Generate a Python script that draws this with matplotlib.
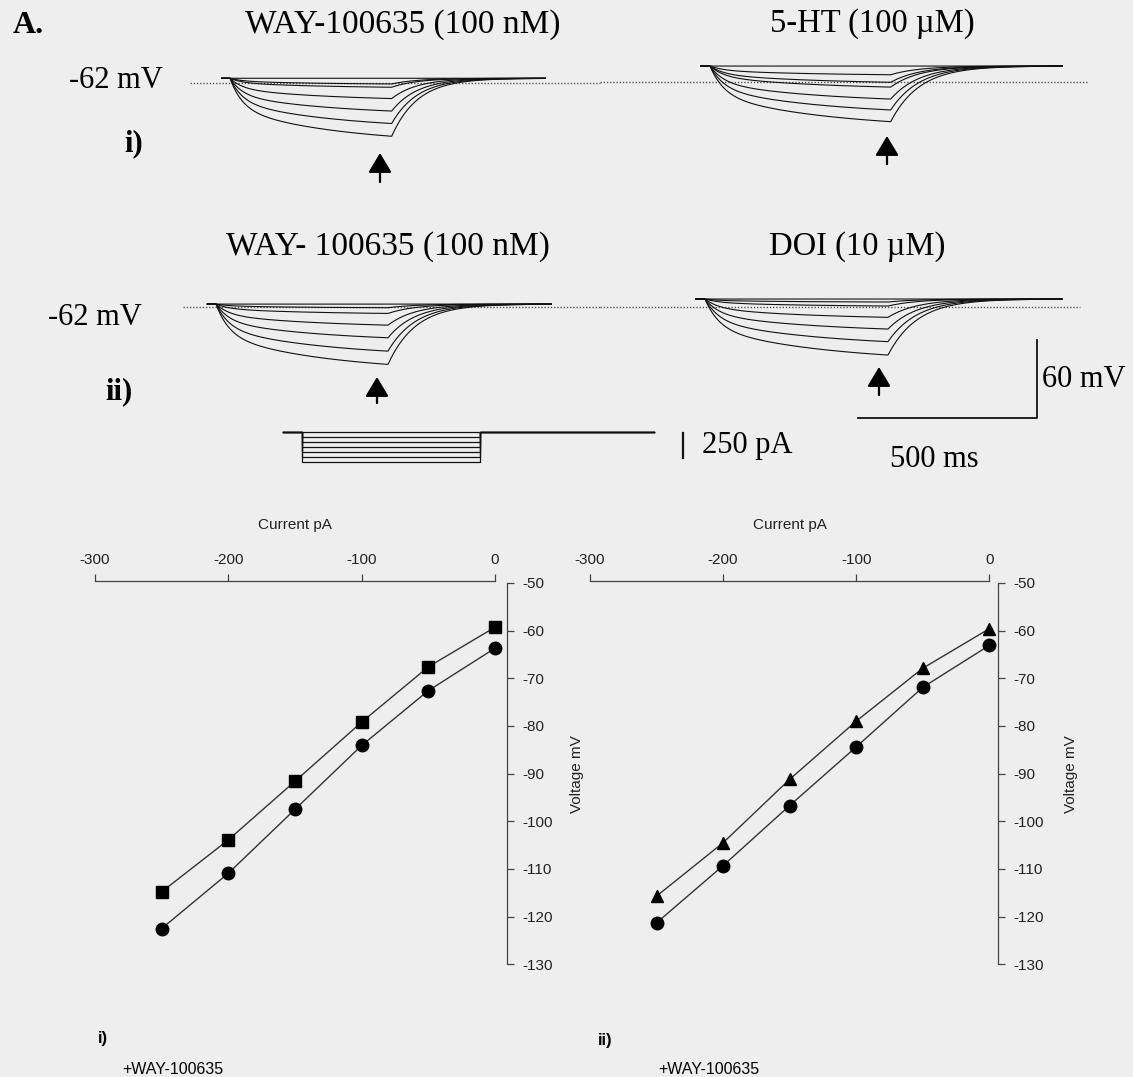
import matplotlib
matplotlib.use('Agg')
import matplotlib.pyplot as plt
import numpy as np

W, H, DPI = 1133, 1077, 100
BG = '#eeeeee'
INK = '#111111'
SERIF = ['Liberation Serif', 'DejaVu Serif']
SANS = ['Liberation Sans', 'DejaVu Sans']

# ---------------- data ----------------
# I-V relationships: injected current (pA) -> membrane potential (mV)
iv_current_pA = [0, -50, -100, -150, -200, -250]
iv_i_squares = [-59.3, -67.6, -79.2, -91.6, -103.9, -114.8]
iv_i_circles = [-63.7, -72.6, -84.1, -97.5, -110.9, -122.5]
iv_ii_triangles = [-59.6, -67.9, -79.0, -91.2, -104.5, -115.7]
iv_ii_circles = [-63.1, -71.9, -84.4, -96.7, -109.3, -121.3]
iv_xticks = [-300, -200, -100, 0]
iv_yticks = [-50, -60, -70, -80, -90, -100, -110, -120, -130]

# Voltage traces (A i / ii)
panel_titles = ['WAY-100635 (100 nM)', '5-HT (100 \u00b5M)',
                'WAY- 100635 (100 nM)', 'DOI (10 \u00b5M)']
dotted_mV = -62
trace_rest_mV = [-58.6, -49.5, -60.0, -56.1]
trace_defl_mV = [
    [0, 4.4, 6.9, 15.6, 25.2, 34.8, 44.6],
    [0, 6.7, 12.5, 16.2, 25.4, 33.8, 42.8],
    [0, 2.8, 7.2, 16.2, 25.9, 36.2, 46.4],
    [0, 2.3, 5.4, 14.1, 23.1, 32.8, 43.1],
]
step_ms = 500
trace_window_ms = (-25, 975)
step_pA = [0, -50, -100, -150, -200, -250, -300]

plt.rcParams['font.family'] = SERIF
fig = plt.figure(figsize=(W / DPI, H / DPI), dpi=DPI, facecolor=BG)


def px_axes(x0, y0, x1, y1):
    ax = fig.add_axes([x0 / W, 1 - y1 / H, (x1 - x0) / W, (y1 - y0) / H])
    ax.set_facecolor('none')
    return ax


def F(x, y):
    return (x / W, 1 - y / H)


def trace_shape(t, defl, rest):
    f = lambda s: 1 - 0.45 * np.exp(-s / 38.0) - 0.55 * np.exp(-s / 330.0)
    v = np.full_like(t, rest, dtype=float)
    on = (t >= 0) & (t <= step_ms)
    v[on] = rest - defl * f(t[on]) / f(step_ms)
    off = t > step_ms
    v[off] = rest - defl * np.exp(-(t[off] - step_ms) / 80.0)
    return v


MV_PX = 1.3  # px per mV
# layout: box, onset px, step length px, dotted y px, dotted extent px, arrow (x, tip, tail)
trace_layout = [
    dict(box=(150, 40, 610, 200), onset=230, step=161.7, dy=82.7, dx=(190, 600), arrow=(380, 153, 182)),
    dict(box=(590, 40, 1110, 200), onset=710, step=180.7, dy=82.3, dx=(600, 1088), arrow=(887, 136, 164)),
    dict(box=(150, 270, 610, 420), onset=216, step=172.0, dy=306.7, dx=(183, 600), arrow=(377, 377, 403)),
    dict(box=(590, 270, 1110, 420), onset=705, step=183.0, dy=306.7, dx=(600, 1080), arrow=(879, 367, 395)),
]

t = np.linspace(trace_window_ms[0], trace_window_ms[1], 1200)
for i, L in enumerate(trace_layout):
    x0, y0, x1, y1 = L['box']
    ax = px_axes(x0, y0, x1, y1)
    k = L['step'] / step_ms
    ax.set_xlim((x0 - L['onset']) / k, (x1 - L['onset']) / k)
    ax.set_ylim(dotted_mV - (y1 - L['dy']) / MV_PX, dotted_mV + (L['dy'] - y0) / MV_PX)
    ax.axis('off')
    d0, d1 = [(d - L['onset']) / k for d in L['dx']]
    ax.plot([d0, d1], [dotted_mV, dotted_mV], ls=(0, (1, 1.3)), lw=1.0, color='#555555')
    for d in trace_defl_mV[i]:
        ax.plot(t, trace_shape(t, d, trace_rest_mV[i]), color=INK, lw=0.8)
    ax_, tip, tail = L['arrow']
    fig.add_artist(matplotlib.patches.FancyArrowPatch(
        F(ax_, tail), F(ax_, tip), transform=fig.transFigure,
        arrowstyle='-|>,head_length=0.6,head_width=0.36', mutation_scale=20,
        color='black', lw=1.6, shrinkA=0, shrinkB=0))

# titles & labels (serif)
fig.text(*F(13, 33), 'A.', fontsize=23, fontweight='bold', va='baseline', ha='left')
fig.text(*F(403, 33), panel_titles[0], fontsize=24, ha='center', va='baseline')
fig.text(*F(872, 32), panel_titles[1], fontsize=23.5, ha='center', va='baseline')
fig.text(*F(388, 255), panel_titles[2], fontsize=24, ha='center', va='baseline')
fig.text(*F(857, 255), panel_titles[3], fontsize=23.5, ha='center', va='baseline')
fig.text(*F(69, 88), '-62 mV', fontsize=22, ha='left', va='baseline')
fig.text(*F(48, 325), '-62 mV', fontsize=22, ha='left', va='baseline')
fig.text(*F(124, 151), 'i)', fontsize=22, fontweight='bold', ha='left', va='baseline')
fig.text(*F(105, 399), 'ii)', fontsize=22, fontweight='bold', ha='left', va='baseline')

# current step protocol
pa = px_axes(260, 415, 700, 480)
kp = 177.5 / step_ms
PA_PX = 0.1
pa.set_xlim((260 - 302) / kp, (700 - 302) / kp)
pa.set_ylim(-(480 - 431.7) / PA_PX, (431.7 - 415) / PA_PX)
pa.axis('off')
t0p, t1p = (283 - 302) / kp, (654 - 302) / kp
for I in step_pA:
    pa.plot([t0p, 0, 0, step_ms, step_ms, t1p], [0, 0, I, I, 0, 0], color=INK, lw=0.9)
xb = (682.7 - 302) / kp
pa.plot([xb, xb], [-15, -265], color=INK, lw=1.6)
fig.text(*F(702, 453), '250 pA', fontsize=22, ha='left', va='baseline')

# 60 mV / 500 ms scale bar
sb = px_axes(840, 330, 1060, 430)
ks = 179.5 / 500
sb.set_xlim((840 - 857.5) / ks, (1060 - 857.5) / ks)
sb.set_ylim(-(430 - 418.3) / MV_PX, (418.3 - 330) / MV_PX)
sb.axis('off')
sb.plot([0, 500, 500], [0, 0, 60], color=INK, lw=1.3)
fig.text(*F(1042, 387), '60 mV', fontsize=22, ha='left', va='baseline')
fig.text(*F(934, 467), '500 ms', fontsize=22, ha='center', va='baseline')


# ---------------- I-V plots ----------------
def iv_axes(x0, x1, xpad, sq, circ, marker_sq):
    ax = px_axes(x0, 581, x1, 964.3)
    ax.set_xlim(-300, xpad)
    ax.set_ylim(-130, -49.6)
    for s in ['left', 'bottom']:
        ax.spines[s].set_visible(False)
    for s in ['top', 'right']:
        ax.spines[s].set_color('#444444')
        ax.spines[s].set_linewidth(0.9)
    ax.spines['top'].set_bounds(-300, 0)
    ax.spines['right'].set_bounds(-130, -50)
    ax.xaxis.tick_top()
    ax.yaxis.tick_right()
    ax.set_xticks(iv_xticks)
    ax.set_yticks(iv_yticks)
    ax.set_xticklabels([str(v) for v in iv_xticks])
    ax.set_yticklabels([str(v) for v in iv_yticks])
    ax.tick_params(axis='x', direction='out', length=5, width=0.9, color='#444444',
                   labelsize=11, pad=5, labelcolor='#222222')
    ax.tick_params(axis='y', direction='out', length=5, width=0.9, color='#444444',
                   labelsize=11, pad=6, labelcolor='#222222')
    for lab in ax.get_xticklabels() + ax.get_yticklabels():
        lab.set_family(SANS)
    ax.plot(iv_current_pA, sq, color='#333333', lw=1.0, marker=marker_sq,
            markersize=8.5 if marker_sq == 's' else 9, markerfacecolor='black',
            markeredgecolor='black', clip_on=False)
    ax.plot(iv_current_pA, circ, color='#333333', lw=1.0, marker='o', markersize=9,
            markerfacecolor='black', markeredgecolor='black', clip_on=False)
    return ax


axl = iv_axes(95, 507, 9, iv_i_squares, iv_i_circles, 's')
axr = iv_axes(590, 998.4, 6.8, iv_ii_triangles, iv_ii_circles, '^')

for xc in (295, 790):
    fig.text(*F(xc, 525), 'Current pA', fontsize=11, ha='center', va='center',
             family=SANS, color='#222222')
for xc in (577, 1071):
    fig.text(*F(xc, 774), 'Voltage mV', fontsize=11, ha='center', va='center',
             rotation=90, family=SANS, color='#222222')

fig.text(*F(98, 1038), 'i)', fontsize=12, fontweight='bold', ha='left', va='center', family=SANS)
fig.text(*F(598, 1040), 'ii)', fontsize=12, fontweight='bold', ha='left', va='center', family=SANS)
fig.text(*F(122, 1070), '+WAY-100635', fontsize=11.5, ha='left', va='center', family=SANS)
fig.text(*F(658, 1070), '+WAY-100635', fontsize=11.5, ha='left', va='center', family=SANS)

fig.savefig('out.png', dpi=DPI, facecolor=BG)
